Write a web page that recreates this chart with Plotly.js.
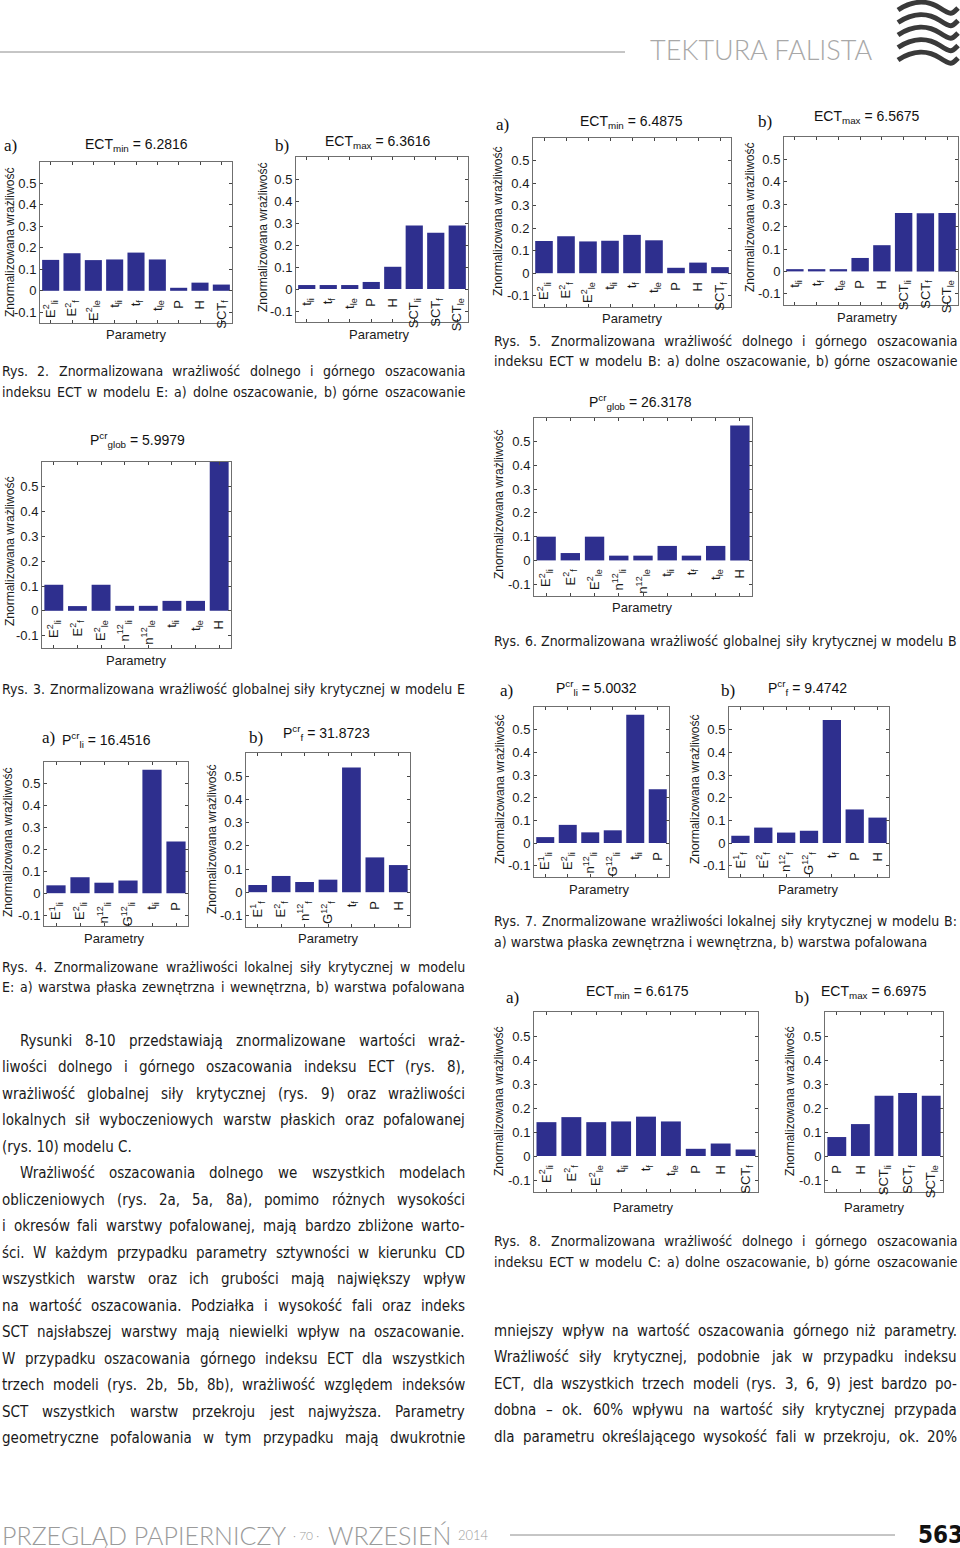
<!DOCTYPE html>
<html>
<head>
<meta charset="utf-8">
<script src="https://cdn.plot.ly/plotly-3.0.1.min.js"></script>
<style>
html,body{margin:0;padding:0;background:#fff;}
#chart{width:960px;height:1548px;}
</style>
</head>
<body>
<div id="chart"></div>
<script>
// ---------------- DATA ----------------
const yTickVals = [-0.1, 0, 0.1, 0.2, 0.3, 0.4, 0.5];
const yTickLabels = ['-0.1', '0', '0.1', '0.2', '0.3', '0.4', '0.5'];

// Rys. 2a – model E, ECT_min
const cat2a = ['E<sup>2</sup><sub>li</sub>', 'E<sup>2</sup><sub>f</sub>', 'E<sup>2</sup><sub>le</sub>', 't<sub>li</sub>', 't<sub>f</sub>', 't<sub>le</sub>', 'P', 'H', 'SCT<sub>f</sub>'];
const val2a = [0.144, 0.175, 0.143, 0.146, 0.178, 0.146, 0.014, 0.038, 0.029];
// Rys. 2b – model E, ECT_max
const cat2b = ['t<sub>li</sub>', 't<sub>f</sub>', 't<sub>le</sub>', 'P', 'H', 'SCT<sub>li</sub>', 'SCT<sub>f</sub>', 'SCT<sub>le</sub>'];
const val2b = [0.018, 0.018, 0.018, 0.032, 0.101, 0.289, 0.256, 0.289];
// Rys. 5a – model B, ECT_min
const cat5a = ['E<sup>2</sup><sub>li</sub>', 'E<sup>2</sup><sub>f</sub>', 'E<sup>2</sup><sub>le</sub>', 't<sub>li</sub>', 't<sub>f</sub>', 't<sub>le</sub>', 'P', 'H', 'SCT<sub>f</sub>'];
const val5a = [0.143, 0.164, 0.141, 0.144, 0.170, 0.146, 0.024, 0.047, 0.027];
// Rys. 5b – model B, ECT_max
const cat5b = ['t<sub>li</sub>', 't<sub>f</sub>', 't<sub>le</sub>', 'P', 'H', 'SCT<sub>li</sub>', 'SCT<sub>f</sub>', 'SCT<sub>le</sub>'];
const val5b = [0.010, 0.010, 0.010, 0.060, 0.117, 0.261, 0.260, 0.261];
// Rys. 3 – model E, P_glob
const cat3 = ['E<sup>2</sup><sub>li</sub>', 'E<sup>2</sup><sub>f</sub>', 'E<sup>2</sup><sub>le</sub>', 'n<sup>12</sup><sub>li</sub>', 'n<sup>12</sup><sub>le</sub>', 't<sub>li</sub>', 't<sub>le</sub>', 'H'];
const val3 = [0.105, 0.019, 0.105, 0.020, 0.020, 0.040, 0.040, 0.62];
// Rys. 6 – model B, P_glob
const cat6 = ['E<sup>2</sup><sub>li</sub>', 'E<sup>2</sup><sub>f</sub>', 'E<sup>2</sup><sub>le</sub>', 'n<sup>12</sup><sub>li</sub>', 'n<sup>12</sup><sub>le</sub>', 't<sub>li</sub>', 't<sub>f</sub>', 't<sub>le</sub>', 'H'];
const val6 = [0.100, 0.031, 0.100, 0.020, 0.020, 0.061, 0.020, 0.061, 0.568];
// Rys. 4a – model E, P_li
const cat4a = ['E<sup>1</sup><sub>li</sub>', 'E<sup>2</sup><sub>li</sub>', 'n<sup>12</sup><sub>li</sub>', 'G<sup>12</sup><sub>li</sub>', 't<sub>li</sub>', 'P'];
const val4a = [0.036, 0.073, 0.048, 0.058, 0.564, 0.236];
// Rys. 4b – model E, P_f
const cat4b = ['E<sup>1</sup><sub>f</sub>', 'E<sup>2</sup><sub>f</sub>', 'n<sup>12</sup><sub>f</sub>', 'G<sup>12</sup><sub>f</sub>', 't<sub>f</sub>', 'P', 'H'];
const val4b = [0.031, 0.070, 0.044, 0.054, 0.537, 0.150, 0.117];
// Rys. 7a – model B, P_li
const cat7a = ['E<sup>1</sup><sub>li</sub>', 'E<sup>2</sup><sub>li</sub>', 'n<sup>12</sup><sub>li</sub>', 'G<sup>12</sup><sub>li</sub>', 't<sub>li</sub>', 'P'];
const val7a = [0.026, 0.080, 0.047, 0.056, 0.566, 0.237];
// Rys. 7b – model B, P_f
const cat7b = ['E<sup>1</sup><sub>f</sub>', 'E<sup>2</sup><sub>f</sub>', 'n<sup>12</sup><sub>f</sub>', 'G<sup>12</sup><sub>f</sub>', 't<sub>f</sub>', 'P', 'H'];
const val7b = [0.032, 0.068, 0.046, 0.054, 0.543, 0.148, 0.112];
// Rys. 8a – model C, ECT_min
const cat8a = ['E<sup>2</sup><sub>li</sub>', 'E<sup>2</sup><sub>f</sub>', 'E<sup>2</sup><sub>le</sub>', 't<sub>li</sub>', 't<sub>f</sub>', 't<sub>le</sub>', 'P', 'H', 'SCT<sub>f</sub>'];
const val8a = [0.141, 0.162, 0.141, 0.144, 0.164, 0.144, 0.030, 0.052, 0.027];
// Rys. 8b – model C, ECT_max
const cat8b = ['P', 'H', 'SCT<sub>li</sub>', 'SCT<sub>f</sub>', 'SCT<sub>le</sub>'];
const val8b = [0.079, 0.133, 0.251, 0.262, 0.251];

const panelTitles = [
  'ECT<sub>min</sub> = 6.2816', 'ECT<sub>max</sub> = 6.3616',
  'ECT<sub>min</sub> = 6.4875', 'ECT<sub>max</sub> = 6.5675',
  'P<sup>cr</sup><sub>glob</sub> = 5.9979', 'P<sup>cr</sup><sub>glob</sub> = 26.3178',
  'P<sup>cr</sup><sub>li</sub> = 16.4516', 'P<sup>cr</sup><sub>f</sub> = 31.8723',
  'P<sup>cr</sup><sub>li</sub> = 5.0032', 'P<sup>cr</sup><sub>f</sub> = 9.4742',
  'ECT<sub>min</sub> = 6.6175', 'ECT<sub>max</sub> = 6.6975'
];
const panelLetters = ['a)', 'b)', 'a)', 'b)', '', '', 'a)', 'b)', 'a)', 'b)', 'a)', 'b)'];
const yTitle = 'Znormalizowana wrażliwość';
const xTitle = 'Parametry';

const captions = [
  ['Rys. 2. Znormalizowana wrażliwość dolnego i górnego oszacowania', 'indeksu ECT w modelu E: a) dolne oszacowanie, b) górne oszacowanie'],
  ['Rys. 5. Znormalizowana wrażliwość dolnego i górnego oszacowania', 'indeksu ECT w modelu B: a) dolne oszacowanie, b) górne oszacowanie'],
  ['Rys. 3. Znormalizowana wrażliwość globalnej siły krytycznej w modelu E'],
  ['Rys. 6. Znormalizowana wrażliwość globalnej siły krytycznej w modelu B'],
  ['Rys. 4. Znormalizowane wrażliwości lokalnej siły krytycznej w modelu', 'E: a) warstwa płaska zewnętrzna i wewnętrzna, b) warstwa pofalowana'],
  ['Rys. 7. Znormalizowane wrażliwości lokalnej siły krytycznej w modelu B:', 'a) warstwa płaska zewnętrzna i wewnętrzna, b) warstwa pofalowana'],
  ['Rys. 8. Znormalizowana wrażliwość dolnego i górnego oszacowania', 'indeksu ECT w modelu C: a) dolne oszacowanie, b) górne oszacowanie']
];

const leftLines = [
  'Rysunki 8-10 przedstawiają znormalizowane wartości wraż-',
  'liwości dolnego i górnego oszacowania indeksu ECT (rys. 8),',
  'wrażliwość globalnej siły krytycznej (rys. 9) oraz wrażliwości',
  'lokalnych sił wyboczeniowych warstw płaskich oraz pofalowanej',
  '(rys. 10) modelu C.',
  'Wrażliwość oszacowania dolnego we wszystkich modelach',
  'obliczeniowych (rys. 2a, 5a, 8a), pomimo różnych wysokości',
  'i okresów fali warstwy pofalowanej, mają bardzo zbliżone warto-',
  'ści. W każdym przypadku parametry sztywności w kierunku CD',
  'wszystkich warstw oraz ich grubości mają największy wpływ',
  'na wartość oszacowania. Podziałka i wysokość fali oraz indeks',
  'SCT najsłabszej warstwy mają niewielki wpływ na oszacowanie.',
  'W przypadku oszacowania górnego indeksu ECT dla wszystkich',
  'trzech modeli (rys. 2b, 5b, 8b), wrażliwość względem indeksów',
  'SCT wszystkich warstw przekroju jest najwyższa. Parametry',
  'geometryczne pofalowania w tym przypadku mają dwukrotnie'
];
const rightLines = [
  'mniejszy wpływ na wartość oszacowania górnego niż parametry.',
  'Wrażliwość siły krytycznej, podobnie jak w przypadku indeksu',
  'ECT, dla wszystkich trzech modeli (rys. 3, 6, 9) jest bardzo po-',
  'dobna – ok. 60% wpływu na wartość siły krytycznej przypada',
  'dla parametru określającego wysokość fali w przekroju, ok. 20%'
];

// ---------------- LAYOUT HELPERS ----------------
const W = 960, H = 1548;
const PX = x => x / W;
const PY = y => 1 - y / H;
const AXFONT = '"Liberation Sans", Arial, sans-serif';
const NARROW = '"Liberation Sans Narrow", "DejaVu Sans Condensed", "Arial Narrow", sans-serif';
const SERIF = '"Liberation Serif", "Times New Roman", serif';
const LIGHT = 'Lato, "Open Sans", sans-serif';
const BAR = '#2e2f8e';

const cv = document.createElement('canvas').getContext('2d');
function measure(t, size, fam, weight) {
  cv.font = (weight || 'normal') + ' ' + size + 'px ' + fam;
  return cv.measureText(t).width;
}

// panel geometry: plot box [x0, x1, y0, y1] in page px, title/label/axis-title positions
const geo = [
  {box: [40, 232, 162, 323], t: [136, 145], l: [10, 145], yt: [10, 243], xt: [136, 334]},
  {box: [296, 468, 157, 322], t: [378, 142], l: [282, 145], yt: [263, 238], xt: [379, 334]},
  {box: [533, 731, 138, 307], t: [631, 122], l: [502, 125], yt: [498, 222], xt: [632, 318]},
  {box: [784, 958, 137, 305], t: [867, 117], l: [765, 122], yt: [750, 218], xt: [867, 317]},
  {box: [42, 231, 462, 648], t: [137, 440], l: [0, 0], yt: [10, 552], xt: [136, 660]},
  {box: [534, 752, 418, 596], t: [640, 402], l: [0, 0], yt: [499, 505], xt: [642, 608]},
  {box: [44, 188, 762, 926], t: [106, 740], l: [48, 737], yt: [8, 843], xt: [114, 938]},
  {box: [246, 410, 753, 927], t: [326, 733], l: [256, 737], yt: [212, 840], xt: [328, 938]},
  {box: [534, 669, 707, 877], t: [596, 688], l: [507, 690], yt: [500, 790], xt: [599, 890]},
  {box: [729, 889, 707, 877], t: [807, 688], l: [728, 690], yt: [695, 790], xt: [808, 890]},
  {box: [534, 758, 1012, 1192], t: [637, 992], l: [512, 998], yt: [499, 1102], xt: [643, 1207]},
  {box: [825, 943, 1012, 1192], t: [874, 992], l: [802, 997], yt: [790, 1102], xt: [874, 1207]}
];
const series = [
  [cat2a, val2a], [cat2b, val2b], [cat5a, val5a], [cat5b, val5b],
  [cat3, val3], [cat6, val6], [cat4a, val4a], [cat4b, val4b],
  [cat7a, val7a], [cat7b, val7b], [cat8a, val8a], [cat8b, val8b]
];

const data = [];
const layout = {
  width: W, height: H, margin: {l: 0, r: 0, t: 0, b: 0},
  paper_bgcolor: '#fff', plot_bgcolor: '#fff',
  showlegend: false, bargap: 0.2,
  annotations: [], shapes: []
};

function ann(text, x, y, o) {
  return Object.assign({
    text: text, x: PX(x), y: PY(y), xref: 'paper', yref: 'paper',
    showarrow: false, xanchor: 'center', yanchor: 'middle',
    font: {family: AXFONT, size: 12, color: '#111'}
  }, o || {});
}

series.forEach((s, i) => {
  const k = i + 1;
  const g = geo[i];
  const [x0, x1, y0, y1] = g.box;
  const hgt = y1 - y0;
  data.push({
    type: 'bar', x: s[0], y: s[1],
    xaxis: 'x' + k, yaxis: 'y' + k,
    marker: {color: BAR, line: {width: 0}},
    hoverinfo: 'skip'
  });
  const xa = 'xaxis' + (k === 1 ? '' : k);
  const ya = 'yaxis' + (k === 1 ? '' : k);
  layout[xa] = {
    domain: [PX(x0), PX(x1)], anchor: 'y' + k, type: 'category',
    range: [-0.5, s[0].length - 0.5], autorange: false,
    showline: true, linecolor: '#6f6f6f', linewidth: 1, mirror: 'ticks',
    ticks: 'inside', ticklen: 3, tickcolor: '#444', tickwidth: 1,
    tickangle: -90, tickfont: {family: AXFONT, size: 13, color: '#1a1a1a'},
    ticklabelstandoff: -Math.round(0.2 * hgt - 3),
    showgrid: false, zeroline: false, fixedrange: true
  };
  layout[ya] = {
    domain: [PY(y1), PY(y0)], anchor: 'x' + k,
    range: [-0.15, 0.6], autorange: false,
    tickmode: 'array', tickvals: yTickVals, ticktext: yTickLabels,
    showline: true, linecolor: '#6f6f6f', linewidth: 1, mirror: 'ticks',
    ticks: 'inside', ticklen: 3, tickcolor: '#444', tickwidth: 1,
    tickfont: {family: AXFONT, size: 13, color: '#1a1a1a'},
    showgrid: false, zeroline: false, fixedrange: true
  };
  layout.annotations.push(ann(panelTitles[i], g.t[0], g.t[1], {font: {family: AXFONT, size: 14, color: '#111'}}));
  if (panelLetters[i]) {
    layout.annotations.push(ann(panelLetters[i], g.l[0], g.l[1], {font: {family: SERIF, size: 17, color: '#111'}}));
  }
  layout.annotations.push(ann(yTitle, g.yt[0], g.yt[1], {textangle: -90, font: {family: AXFONT, size: 12, color: '#1a1a1a'}}));
  layout.annotations.push(ann(xTitle, g.xt[0], g.xt[1], {font: {family: AXFONT, size: 13, color: '#1a1a1a'}}));
});

// ---------------- TEXT BLOCKS ----------------
const PADX = 2; // annotation border + pad offset
function fitSize(lines, widths, fam, cap) {
  let best = cap;
  lines.forEach((t, i) => {
    if (!widths[i]) return;
    const w1 = measure(t, 100, fam) / 100;
    best = Math.min(best, widths[i] / w1);
  });
  return Math.floor(best);
}
function placeLine(t, x0, x1, y, size, fam, justify, color) {
  if (!justify) {
    layout.annotations.push(ann(t, x0 - PADX, y, {xanchor: 'left', font: {family: fam, size: size, color: color}}));
    return;
  }
  const words = t.split(' ');
  const ws = words.map(w => measure(w, size, fam));
  const tot = ws.reduce((a, b) => a + b, 0);
  const gap = (x1 - x0 - tot) / (words.length - 1);
  let x = x0;
  words.forEach((w, i) => {
    layout.annotations.push(ann(w, x - PADX, y, {xanchor: 'left', font: {family: fam, size: size, color: color}}));
    x += ws[i] + gap;
  });
}

const capGeo = [
  {x0: 2, x1: 465, y: 371, j: [true, true]},
  {x0: 494, x1: 957, y: 341, j: [true, true]},
  {x0: 2, x1: 465, y: 689, j: [true]},
  {x0: 494, x1: 957, y: 641, j: [true]},
  {x0: 2, x1: 465, y: 967, j: [true, true]},
  {x0: 494, x1: 957, y: 921, j: [true, false]},
  {x0: 494, x1: 957, y: 1241, j: [true, true]}
];
const capAll = [], capW = [];
captions.forEach((c, i) => c.forEach((t, j) => { capAll.push(t); capW.push(capGeo[i].j[j] ? capGeo[i].x1 - capGeo[i].x0 : 0); }));
const capSize = fitSize(capAll, capW, NARROW, 17);
captions.forEach((c, i) => {
  const g = capGeo[i];
  c.forEach((t, j) => placeLine(t, g.x0, g.x1, g.y + j * 20.5, capSize, NARROW, g.j[j], '#1a1a1a'));
});

const leftIndent = [0, 5];
const leftNoJust = [4];
const LH = 26.47;
const bodyAll = [], bodyW = [];
leftLines.forEach((t, i) => {
  const xs = leftIndent.includes(i) ? 20 : 2;
  bodyAll.push(t); bodyW.push(leftNoJust.includes(i) ? 0 : 465 - xs);
});
rightLines.forEach(t => { bodyAll.push(t); bodyW.push(957 - 494); });
const bodySize = fitSize(bodyAll, bodyW, NARROW, 19);
leftLines.forEach((t, i) => {
  const xs = leftIndent.includes(i) ? 20 : 2;
  placeLine(t, xs, 465, 1041 + i * LH, bodySize, NARROW, !leftNoJust.includes(i), '#1a1a1a');
});
rightLines.forEach((t, i) => placeLine(t, 494, 957, 1331 + i * LH, bodySize, NARROW, true, '#1a1a1a'));

// ---------------- HEADER / FOOTER ----------------
layout.shapes.push({type: 'line', xref: 'paper', yref: 'paper', x0: 0, x1: PX(625), y0: PY(52), y1: PY(52), line: {color: '#8c8c8c', width: 1}});
const hdr = 'TEKTURA FALISTA';
const hdrSize = Math.round(225 / (measure(hdr, 100, LIGHT, '300') / 100));
layout.annotations.push(ann(hdr, 648, 50, {xanchor: 'left', font: {family: LIGHT, size: hdrSize, color: '#a8a8a8', weight: 300}}));

// logo (wave stripes)
for (let k = 0; k < 5; k++) {
  const yb = 6 + k * 12.5;
  const p = 'M ' + PX(898) + ',' + PY(yb + 4) +
    ' C ' + PX(913) + ',' + PY(yb - 6) + ' ' + PX(928) + ',' + PY(yb - 6) + ' ' + PX(940) + ',' + PY(yb + 2) +
    ' S ' + PX(952) + ',' + PY(yb + 8) + ' ' + PX(958) + ',' + PY(yb + 2);
  layout.shapes.push({type: 'path', xref: 'paper', yref: 'paper', path: p, line: {color: '#3a3a3a', width: 5}});
}

const ftParts = [
  {t: 'PRZEGLĄD PAPIERNICZY', x0: 2, x1: 283},
  {t: '· 70 ·', x0: 293, x1: 320},
  {t: 'WRZESIEŃ', x0: 328, x1: 450},
  {t: '2014', x0: 458, x1: 487}
];
ftParts.forEach(f => {
  const s = Math.round((f.x1 - f.x0) / (measure(f.t, 100, LIGHT, '300') / 100));
  layout.annotations.push(ann(f.t, f.x0 - PADX, 1535, {xanchor: 'left', font: {family: LIGHT, size: Math.min(s, 30), color: '#9a9a9a', weight: 300}}));
});
layout.shapes.push({type: 'line', xref: 'paper', yref: 'paper', x0: PX(510), x1: PX(895), y0: PY(1535), y1: PY(1535), line: {color: '#8c8c8c', width: 1}});
layout.annotations.push(ann('563', 940, 1535, {font: {family: NARROW, size: 24, color: '#111', weight: 700}}));

Plotly.newPlot('chart', data, layout, {staticPlot: true, displayModeBar: false});
</script>
</body>
</html>
